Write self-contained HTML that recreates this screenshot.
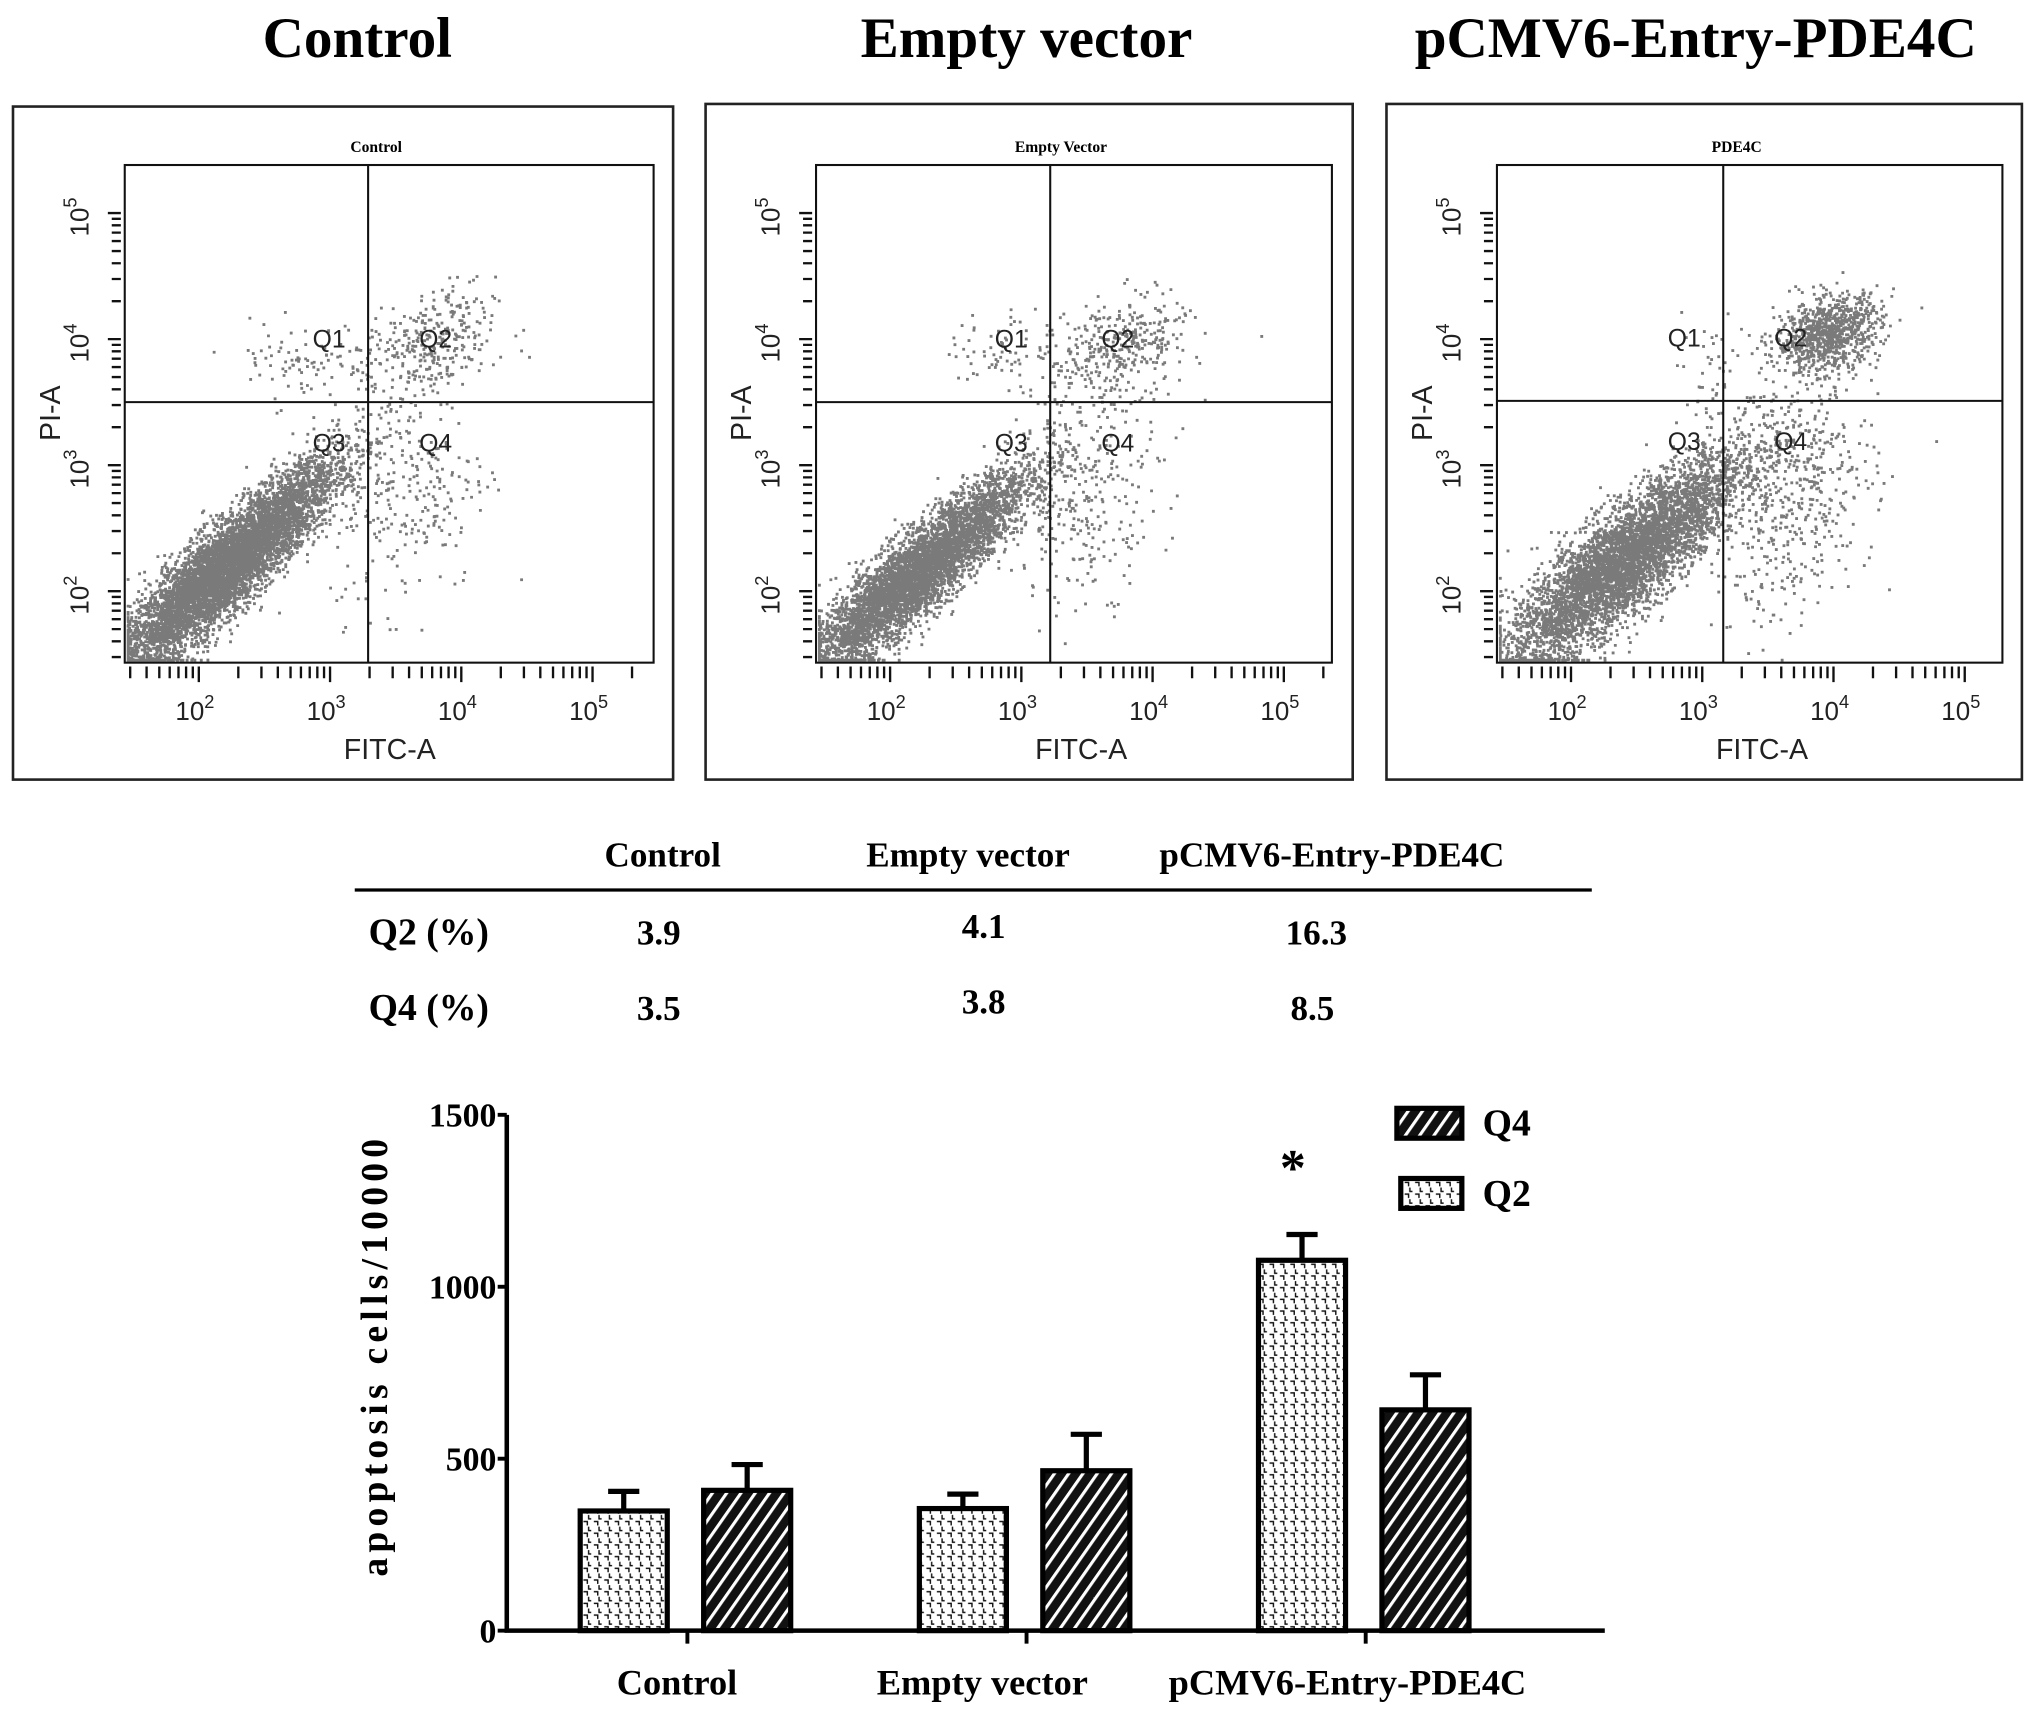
<!DOCTYPE html>
<html><head><meta charset="utf-8">
<style>
html,body{margin:0;padding:0;background:#fff;}
svg{display:block;}
.ser{font-family:"Liberation Serif",serif;font-weight:bold;fill:#000;}
.san{font-family:"Liberation Sans",sans-serif;fill:#222;}
</style></head>
<body>
<svg id="fig" width="2031" height="1719" viewBox="0 0 1563 1323" preserveAspectRatio="none" xmlns="http://www.w3.org/2000/svg">
<defs>
<pattern id="patQ2" patternUnits="userSpaceOnUse" width="8" height="9">
<rect width="8" height="9" fill="#fff"/>
<path d="M1 1 L4 1 L4 4 M5 5 L5 8 L7 8" stroke="#111" stroke-width="1.1" fill="none"/>
</pattern>
<pattern id="patQ4" patternUnits="userSpaceOnUse" width="9" height="9" patternTransform="rotate(35)">
<rect width="9" height="9" fill="#111"/>
<rect x="0" y="0" width="2.4" height="9" fill="#fff"/>
</pattern>
</defs>
<g id="topPanels"></g>
<g id="table">
<text class="ser" x="510" y="667" font-size="27" text-anchor="middle">Control</text>
<text class="ser" x="745" y="667" font-size="27" text-anchor="middle">Empty vector</text>
<text class="ser" x="1025" y="667" font-size="27" text-anchor="middle">pCMV6-Entry-PDE4C</text>
<line x1="273" y1="685" x2="1225" y2="685" stroke="#000" stroke-width="2.5"/>
<text class="ser" x="330" y="727" font-size="29" text-anchor="middle">Q2 (%)</text>
<text class="ser" x="507" y="727" font-size="27" text-anchor="middle">3.9</text>
<text class="ser" x="757" y="722" font-size="27" text-anchor="middle">4.1</text>
<text class="ser" x="1013" y="727" font-size="27" text-anchor="middle">16.3</text>
<text class="ser" x="330" y="785" font-size="29" text-anchor="middle">Q4 (%)</text>
<text class="ser" x="507" y="785" font-size="27" text-anchor="middle">3.5</text>
<text class="ser" x="757" y="780" font-size="27" text-anchor="middle">3.8</text>
<text class="ser" x="1010" y="785" font-size="27" text-anchor="middle">8.5</text>
</g>
<g id="bars"></g>
</svg>
<script>
// ---------- bar chart data ----------
const categories = ["Control", "Empty vector", "pCMV6-Entry-PDE4C"];
const q2Values = [348, 355, 1077];
const q2Errors = [57, 42, 75];
const q4Values = [408, 465, 642];
const q4Errors = [75, 106, 102];
const yTicks = [0, 500, 1000, 1500];
const seriesNames = ["Q4", "Q2"];
// ---------- flow cytometry data (log10 cluster params: cx, cy, sx, sy, rho, n) ----------
const panelTitles = ["Control", "Empty vector", "pCMV6-Entry-PDE4C"];
const panelSubtitles = ["Control", "Empty Vector", "PDE4C"];
const clustersControl = [[2.2,2.2,0.42,0.42,0.9,6500],[3.75,3.95,0.25,0.22,0.3,320],[3.6,2.8,0.3,0.45,0.2,260],[2.8,3.85,0.3,0.15,0,90]];
const clustersEmpty = [[2.2,2.15,0.42,0.4,0.9,6500],[3.75,3.95,0.25,0.2,0.3,330],[3.5,2.85,0.28,0.45,0.2,320],[2.9,3.9,0.25,0.18,0,80]];
const clustersPDE = [[2.4,2.25,0.45,0.42,0.85,5200],[3.95,4.05,0.2,0.15,0.3,900],[3.7,2.8,0.3,0.5,0.2,520],[3.0,3.75,0.15,0.2,0,40]];
const gateX = [3.29, 3.22, 3.16];
const gateY = [3.5, 3.5, 3.51];

const NS="http://www.w3.org/2000/svg";
function mk(tag, attrs, parent){const e=document.createElementNS(NS,tag);for(const k in attrs)e.setAttribute(k,attrs[k]);parent.appendChild(e);return e;}

const topG=document.getElementById('topPanels');
const frames=[[10,82,508,518],[543,80,498,520],[1067,80,489,520]];
const boxes=[[96,127,407,383],[628,127,397,383],[1152,127,389,383]];
const titleX=[275,790,1305];
const allClusters=[clustersControl,clustersEmpty,clustersPDE];
let seed=12345;
function rnd(){seed=(seed*1103515245+12345)%2147483648;return seed/2147483648;}
function gauss(){let u=rnd()||1e-9,v=rnd();return Math.sqrt(-2*Math.log(u))*Math.cos(2*Math.PI*v);}
for(let p=0;p<3;p++){
  const g=mk('g',{},topG);
  
  
  const t=mk('text',{class:'ser',x:titleX[p],y:44,'font-size':44,'text-anchor':'middle'},g);
  t.textContent=panelTitles[p];
  
  
  const f=frames[p];
  const fr=mk('rect',{x:f[0],y:f[1],width:f[2],height:f[3],fill:'#fff',stroke:'#222','stroke-width':2},g);
  
  
  const b=boxes[p];
  const X0=b[0]+57, Y0=455;
  const sx=v=>X0+(v-2)*101, sy=v=>Y0-(v-2)*97;
  const st=mk('text',{class:'ser',x:b[0]+b[2]/2-10,y:117,'font-size':12,'text-anchor':'middle'},g);
  st.textContent=panelSubtitles[p];
  
  
  let d='';
  for(const c of allClusters[p]){
    for(let i=0;i<c[5];i++){
      const z1=gauss(),z2=gauss();
      const lx=c[0]+c[2]*z1, ly=c[1]+c[3]*(c[4]*z1+Math.sqrt(1-c[4]*c[4])*z2);
      let px=sx(lx),py=sy(ly);
      px=Math.max(b[0]+1.5,Math.min(b[0]+b[2]-3,px));
      py=Math.max(b[1]+1.5,Math.min(b[1]+b[3]-3,py));
      d+='M'+px.toFixed(1)+' '+py.toFixed(1)+'h2.2v2.2h-2.2z';
    }
  }
  const dots=mk('path',{d:d,fill:'#7a7a7a'},g);
  
  
  const bx=mk('rect',{x:b[0],y:b[1],width:b[2],height:b[3],fill:'none',stroke:'#111','stroke-width':1.6},g);
  
  
  const gv=mk('line',{x1:sx(gateX[p]),x2:sx(gateX[p]),y1:b[1],y2:b[1]+b[3],stroke:'#111','stroke-width':1.6},g);
  
  
  const gh=mk('line',{x1:b[0],x2:b[0]+b[2],y1:sy(gateY[p]),y2:sy(gateY[p]),stroke:'#111','stroke-width':1.6},g);
  
  
  const qx=sx(gateX[p]), qy=sy(gateY[p]);
  [['Q1',qx-30,qy-42],['Q2',qx+52,qy-42],['Q3',qx-30,qy+38],['Q4',qx+52,qy+38]].forEach(q=>{
    const qt=mk('text',{class:'san',x:q[1],y:q[2],'font-size':19,'text-anchor':'middle'},g);
    qt.textContent=q[0];
    
    
  });
  let td='';
  const bot=b[1]+b[3];
  for(let dec=1;dec<=5;dec++){for(let m=1;m<=9;m++){
    const v=dec+Math.log10(m);
    const x=sx(v); if(x>b[0]+2&&x<b[0]+b[2]-4){td+='M'+x+' '+(bot+3)+'v'+(m==1?12:9);}
    const y=sy(v); if(y>b[1]+10&&y<bot-2){td+='M'+(b[0]-3)+' '+y+'h-'+(m==1?10:7);}
  }}
  const tk=mk('path',{d:td,stroke:'#111','stroke-width':1.8,fill:'none'},g);
  
  
  for(let dec=2;dec<=5;dec++){
    const xt=mk('text',{class:'san',x:sx(dec)-3,y:554,'font-size':20,'text-anchor':'middle'},g);
    xt.textContent='10';
    const sup=mk('tspan',{dy:-9,'font-size':14},xt); sup.textContent=dec;
    
    
    const ytl=mk('text',{class:'san',x:0,y:0,'font-size':20,'text-anchor':'middle',transform:'translate('+(b[0]-28)+','+(sy(dec)+3)+') rotate(-90)'},g);
    ytl.textContent='10';
    const sup2=mk('tspan',{dy:-9,'font-size':14},ytl); sup2.textContent=dec;
    
    
  }
  const xl=mk('text',{class:'san',x:b[0]+204,y:584,'font-size':22,'text-anchor':'middle'},g);
  xl.textContent='FITC-A';
  
  
  const yl=mk('text',{class:'san',x:0,y:0,'font-size':22,'text-anchor':'middle',transform:'translate('+(b[0]-50)+',318) rotate(-90)'},g);
  yl.textContent='PI-A';
  
  
}

const barsG=document.getElementById('bars');


const axX=390, axY=1255, axTop=858, xEnd=1235;
const yScale=v=>axY-(v/1500)*(axY-axTop);
const groupX=[529,790,1051];
const barW=67;
yTicks.forEach(t=>{
  const l=mk('line',{x1:axX-7,x2:axX,y1:yScale(t),y2:yScale(t),stroke:'#000','stroke-width':3},barsG);
  
  
  const tx=mk('text',{class:'ser',x:axX-8,y:yScale(t)+9,'font-size':26,'text-anchor':'end'},barsG);
  tx.textContent=t;
  
  
});
function drawBar(cx,v,e,pat,name){
  const yTop=yScale(v), et=yScale(v+e);
  const er=mk('path',{d:'M'+cx+' '+yTop+'V'+et+'M'+(cx-12)+' '+et+'H'+(cx+12),stroke:'#000','stroke-width':4,fill:'none'},barsG);
  
  
  const r=mk('rect',{x:cx-barW/2,y:yTop,width:barW,height:axY-yTop,fill:'url(#'+pat+')',stroke:'#000','stroke-width':4},barsG);
  
  
}
categories.forEach((c,i)=>{
  drawBar(groupX[i]-49,q2Values[i],q2Errors[i],'patQ2','q2-'+i);
  drawBar(groupX[i]+46,q4Values[i],q4Errors[i],'patQ4','q4-'+i);
  const tk=mk('line',{x1:groupX[i],x2:groupX[i],y1:axY,y2:axY+10,stroke:'#000','stroke-width':3},barsG);
  
  
  const lb=mk('text',{class:'ser',x:groupX[i]+(i==0?-8:(i==1?-34:-14)),y:1304,'font-size':28,'text-anchor':'middle'},barsG);
  lb.textContent=c;
  
  
});
const axPath=mk('path',{d:'M'+axX+' '+axTop+'V'+axY+'H'+xEnd,stroke:'#000','stroke-width':3.5,fill:'none'},barsG);


const yTitle=mk('text',{class:'ser',x:0,y:0,'font-size':29,'text-anchor':'middle','letter-spacing':'4',transform:'translate(298,1043) rotate(-90)'},barsG);
yTitle.textContent='apoptosis cells/10000';


const star=mk('text',{class:'ser',x:995,y:912,'font-size':40,'text-anchor':'middle'},barsG);
star.textContent='*';


const lg=mk('g',{},barsG);


[['patQ4',1075,853],['patQ2',1078,907]].forEach((L,i)=>{
  const r=mk('rect',{x:L[1],y:L[2],width:1125-L[1],height:23,fill:'url(#'+L[0]+')',stroke:'#000','stroke-width':4},lg);
  
  
  const t=mk('text',{class:'ser',x:1141,y:L[2]+21,'font-size':29},lg);
  t.textContent=seriesNames[i];
  
  
});
</script>
</body></html>
